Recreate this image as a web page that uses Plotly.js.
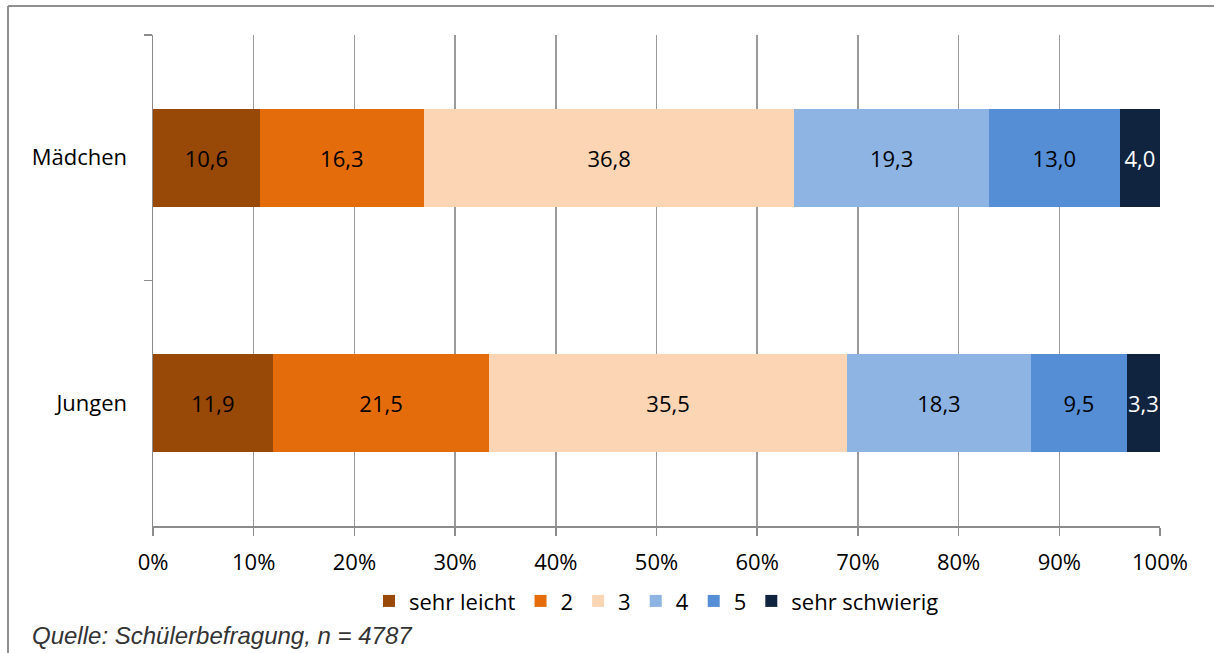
<!DOCTYPE html>
<html>
<head>
<meta charset="utf-8">
<script src="https://cdn.plot.ly/plotly-3.0.1.min.js"></script>
<style>html,body{margin:0;padding:0;background:#fff;}#chart{width:1214px;height:653px;}</style>
</head>
<body>
<div id="chart"></div>
<script>
const categories = ["Mädchen", "Jungen"];
const seriesNames = ["sehr leicht", "2", "3", "4", "5", "sehr schwierig"];
const sehrLeicht = [10.6, 11.9];
const s2 = [16.3, 21.5];
const s3 = [36.8, 35.5];
const s4 = [19.3, 18.3];
const s5 = [13.0, 9.5];
const sehrSchwierig = [4.0, 3.3];
const seriesValues = [sehrLeicht, s2, s3, s4, s5, sehrSchwierig];
const colors = ["#984807", "#E46C0A", "#FCD5B5", "#8EB4E3", "#558ED5", "#11243F"];
const textColors = ["#000", "#000", "#000", "#000", "#000", "#fff"];
const xTickVals = [0,10,20,30,40,50,60,70,80,90,100];
const xTickText = xTickVals.map(v => v + "%");

const FONT = "'Open Sans', sans-serif";

const traces = seriesValues.map((vals, i) => ({
  type: "bar",
  orientation: "h",
  name: seriesNames[i],
  y: categories,
  x: vals,
  width: 0.4,
  marker: {color: colors[i], line: {width: 0}},
  text: vals.map(v => v.toFixed(1).replace(".", ",")),
  textposition: "inside",
  insidetextanchor: "middle",
  textangle: 0,
  constraintext: "none",
  insidetextfont: {color: textColors[i], size: 22, family: FONT},
  hoverinfo: "skip"
}));

const layout = {
  width: 1214, height: 653,
  margin: {l: 153, r: 54, t: 35, b: 127},
  paper_bgcolor: "#fff",
  plot_bgcolor: "#fff",
  barmode: "stack",
  showlegend: true,
  legend: {
    orientation: "h", x: 0.5, xanchor: "center", xref: "paper",
    y: -0.153, yanchor: "middle",
    font: {family: FONT, size: 22, color: "#000"},
    traceorder: "normal", itemwidth: 30, tracegroupgap: 0
  },
  xaxis: {
    range: [0, 100], tickvals: xTickVals, ticktext: xTickText,
    showgrid: true, gridcolor: "#9a9a9a", gridwidth: 1.5,
    showline: true, linecolor: "#8c8c8c", linewidth: 1.5,
    ticks: "outside", ticklen: 8, tickcolor: "#8c8c8c", tickwidth: 1.5,
    tickfont: {family: FONT, size: 22, color: "#000"},
    ticklabelstandoff: 8,
    zeroline: false, fixedrange: true
  },
  yaxis: {
    type: "category", autorange: "reversed",
    tickson: "boundaries",
    showgrid: false,
    showline: true, linecolor: "#8c8c8c", linewidth: 1.5,
    ticks: "outside", ticklen: 8, tickcolor: "#8c8c8c", tickwidth: 1.5,
    tickfont: {family: FONT, size: 22, color: "#000"},
    ticklabelstandoff: 20,
    zeroline: false, fixedrange: true
  },
  shapes: [
    {type: "line", xref: "paper", yref: "paper", x0: -145/1007, x1: 1.1, y0: 1 + 29/491, y1: 1 + 29/491, line: {color: "#8f8f8f", width: 2}},
    {type: "line", xref: "paper", yref: "paper", x0: -145/1007, x1: -145/1007, y0: 1 + 29/491, y1: -0.3, line: {color: "#8f8f8f", width: 2}}
  ],
  annotations: [
    {xref: "paper", yref: "paper", x: -123/1007, y: -109/491, xanchor: "left", yanchor: "middle",
     text: "<i>Quelle: Schülerbefragung, n = 4787</i>", showarrow: false,
     font: {family: "'Liberation Sans', Arial, sans-serif", size: 24, color: "#333"}}
  ]
};

Plotly.newPlot("chart", traces, layout, {displayModeBar: false, staticPlot: true});
</script>
</body>
</html>
